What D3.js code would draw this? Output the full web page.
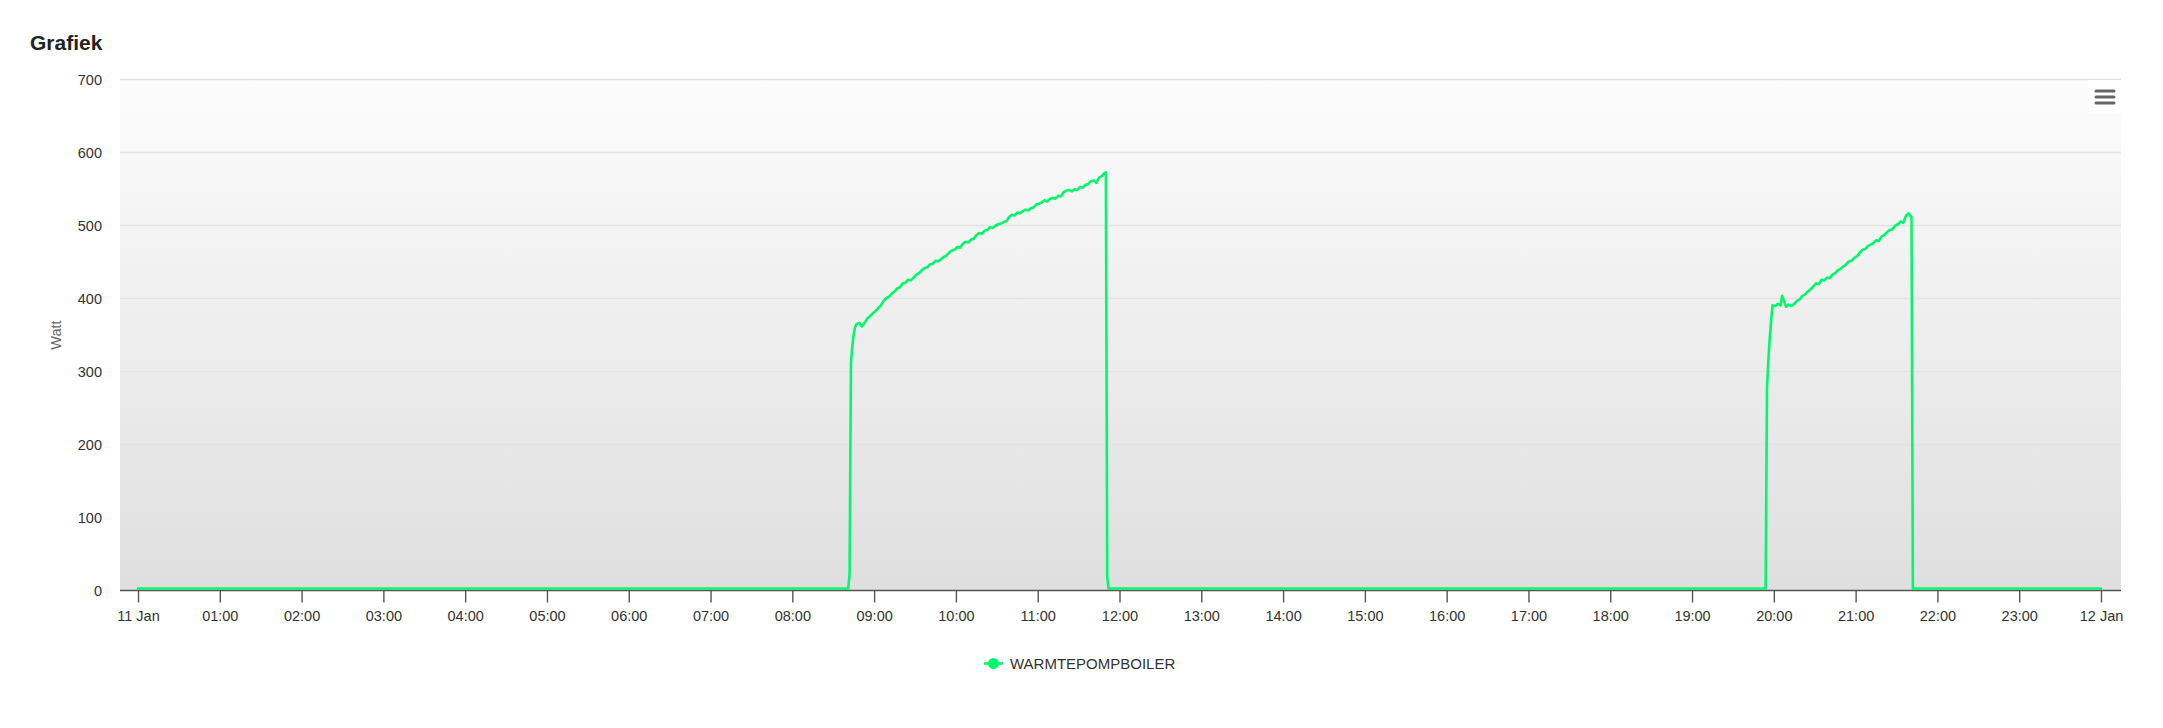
<!DOCTYPE html>
<html>
<head>
<meta charset="utf-8">
<script src="https://cdn.jsdelivr.net/npm/d3@7"></script>
<style>
  html, body { margin: 0; padding: 0; background: #ffffff; }
  svg { display: block; font-family: "Liberation Sans", Arial, Helvetica, sans-serif; }
</style>
</head>
<body>
<svg id="chart" width="2163" height="728"></svg>
<script>
// ---- Data ----
const chartTitle = "Grafiek";
const yAxisTitle = "Watt";
const seriesName = "WARMTEPOMPBOILER";
const yTicks = [0, 100, 200, 300, 400, 500, 600, 700];
const dayStart = "11 Jan";
const dayEnd = "12 Jan";

const times = [
  "00:00","08:41","08:42","08:43","08:44","08:45","08:46","08:47","08:49","08:51","08:53","08:55","08:57","08:59",
  "09:01","09:03","09:05","09:07","09:09","09:11","09:13","09:15","09:17","09:19","09:21","09:23","09:25","09:27","09:29",
  "09:31","09:33","09:35","09:37","09:39","09:41","09:43","09:45","09:47","09:49","09:51","09:53","09:55","09:57","09:59",
  "10:01","10:03","10:05","10:07","10:09","10:11","10:13","10:15","10:17","10:19","10:21","10:23","10:25","10:27","10:29",
  "10:31","10:33","10:35","10:37","10:39","10:41","10:43","10:45","10:47","10:49","10:51","10:53","10:55","10:57","10:59",
  "11:01","11:03","11:05","11:07","11:09","11:11","11:13","11:15","11:17","11:19","11:21","11:23","11:25","11:27","11:29",
  "11:31","11:33","11:35","11:37","11:39","11:41","11:43","11:45","11:47","11:49","11:50","11:51","11:52",
  "19:54","19:55","19:56","19:57","19:58","19:59","20:01","20:03","20:05","20:06","20:08","20:09","20:11","20:13","20:15",
  "20:17","20:19","20:21","20:23","20:25","20:27","20:29","20:31","20:33","20:35","20:37","20:39","20:41","20:43","20:45",
  "20:47","20:49","20:51","20:53","20:55","20:57","20:59","21:01","21:03","21:05","21:07","21:09","21:11","21:13","21:15",
  "21:17","21:19","21:21","21:23","21:25","21:27","21:29","21:31","21:33","21:35","21:37","21:39","21:40","21:41","21:42",
  "24:00"
];
const watts = [
  2,2,22,310,335,350,360,364,366,361,366,372,375,379,
  382,386,390,396,400,402,406,409,413,415,420,421,425,424,428,
  432,434,438,441,442,446,447,451,450,453,456,458,462,465,466,
  470,469,474,477,476,480,481,486,489,488,492,493,497,496,499,
  501,502,504,505,511,514,513,517,516,519,521,520,523,524,528,
  529,531,534,532,536,537,536,540,539,545,547,548,546,549,548,
  552,551,555,556,560,561,558,565,567,571,572,18,2,
  2,278,315,345,368,390,389,392,390,403,393,388,391,389,392,
  396,398,403,405,409,412,416,420,419,425,424,428,427,432,434,
  438,440,443,446,450,451,455,457,462,466,467,471,473,475,479,
  478,484,486,490,493,494,499,501,505,503,513,516,513,511,2,
  2
];

// ---- Helpers ----
const base = new Date(2024, 0, 11, 0, 0, 0);
function toDate(hm) {
  const [h, m] = hm.split(":").map(Number);
  return new Date(base.getTime() + (h * 60 + m) * 60000);
}
const data = times.map((t, i) => ({ t: toDate(t), v: watts[i] }));

// ---- Layout ----
const svg = d3.select("#chart");
const plot = { left: 120, right: 2121, top: 79, bottom: 590 };

const x = d3.scaleTime()
  .domain([toDate("00:00"), toDate("24:00")])
  .range([138, 2101]);
const y = d3.scaleLinear()
  .domain([0, 700])
  .range([plot.bottom, plot.top]);

// background gradient
const defs = svg.append("defs");
const grad = defs.append("linearGradient")
  .attr("id", "bg").attr("x1", 0).attr("y1", 0).attr("x2", 0).attr("y2", 1);
grad.append("stop").attr("offset", "0%").attr("stop-color", "#fcfcfc");
grad.append("stop").attr("offset", "100%").attr("stop-color", "#dfdfdf");

svg.append("rect")
  .attr("x", plot.left).attr("y", plot.top)
  .attr("width", plot.right - plot.left).attr("height", plot.bottom - plot.top)
  .attr("fill", "url(#bg)");

// gridlines
svg.append("g").selectAll("line")
  .data(yTicks.filter(d => d > 0))
  .join("line")
  .attr("x1", plot.left).attr("x2", plot.right)
  .attr("y1", d => Math.round(y(d)) + 0.5).attr("y2", d => Math.round(y(d)) + 0.5)
  .attr("stroke", "#e3e3e3").attr("stroke-width", 1.4);

// title
svg.append("text")
  .attr("x", 30).attr("y", 50)
  .attr("font-size", 21).attr("font-weight", "bold")
  .attr("fill", "#222")
  .text(chartTitle);

// y axis labels
const yAxis = d3.axisLeft(y).tickValues(yTicks).tickSize(0).tickPadding(0);
const yG = svg.append("g").attr("transform", "translate(102,0)").call(yAxis);
yG.select(".domain").remove();
yG.selectAll("text")
  .attr("font-size", 14.5).attr("font-family", "Liberation Sans, Arial, sans-serif")
  .attr("fill", "#333").attr("x", 0).attr("dy", "0.35em");

// y axis title
svg.append("text")
  .attr("transform", "translate(61,335) rotate(-90)")
  .attr("text-anchor", "middle")
  .attr("font-size", 14.5).attr("fill", "#666")
  .text(yAxisTitle);

// x axis
const hourTicks = d3.range(0, 25).map(h => new Date(base.getTime() + h * 3600000));
const fmt = d => {
  const h = Math.round((d - base) / 3600000);
  if (h === 0) return dayStart;
  if (h === 24) return dayEnd;
  return d3.timeFormat("%H:%M")(d);
};
const xAxis = d3.axisBottom(x).tickValues(hourTicks).tickFormat(fmt).tickSize(12).tickPadding(8).tickSizeOuter(0);
const xG = svg.append("g").attr("transform", `translate(0,${plot.bottom + 0.5})`).call(xAxis);
xG.select(".domain").remove();
xG.selectAll(".tick line").attr("stroke", "#555").attr("stroke-width", 1.4);
xG.selectAll("text")
  .attr("font-size", 14.5).attr("font-family", "Liberation Sans, Arial, sans-serif")
  .attr("fill", "#333");
svg.append("line")
  .attr("x1", plot.left).attr("x2", plot.right)
  .attr("y1", plot.bottom + 0.5).attr("y2", plot.bottom + 0.5)
  .attr("stroke", "#555").attr("stroke-width", 1.4);

// line series
const line = d3.line().x(d => x(d.t)).y(d => y(d.v));
svg.append("path")
  .datum(data)
  .attr("d", line)
  .attr("fill", "none")
  .attr("stroke", "#00f96a")
  .attr("stroke-width", 2.6)
  .attr("stroke-linejoin", "round")
  .attr("stroke-linecap", "round");

// context menu button
const btn = svg.append("g");
btn.append("rect")
  .attr("x", 2088).attr("y", 80).attr("width", 33).attr("height", 34)
  .attr("fill", "#ffffff");
[91, 97, 103].forEach(yy => {
  btn.append("line")
    .attr("x1", 2096).attr("x2", 2114).attr("y1", yy).attr("y2", yy)
    .attr("stroke", "#666").attr("stroke-width", 3).attr("stroke-linecap", "round");
});

// legend
const lg = svg.append("g");
lg.append("line")
  .attr("x1", 984).attr("x2", 1003).attr("y1", 663.5).attr("y2", 663.5)
  .attr("stroke", "#00f96a").attr("stroke-width", 2.6);
lg.append("circle")
  .attr("cx", 993.5).attr("cy", 663.5).attr("r", 5.5)
  .attr("fill", "#00f96a");
lg.append("text")
  .attr("x", 1010).attr("y", 663.5).attr("dy", "0.35em")
  .attr("font-size", 15).attr("fill", "#333")
  .text(seriesName);
</script>
</body>
</html>
